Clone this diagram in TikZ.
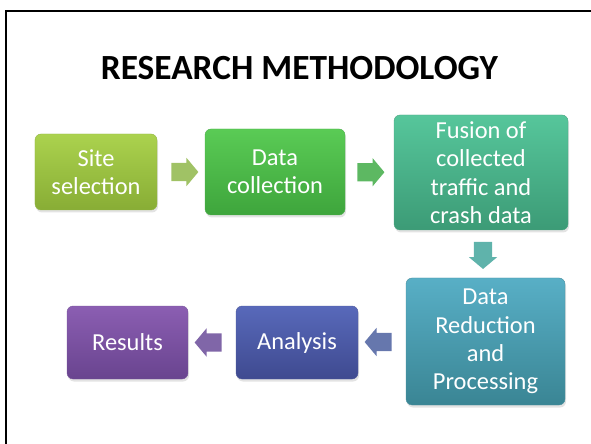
\documentclass[tikz,border=0pt]{standalone}
\usepackage{fontspec}
\setmainfont{Carlito}
\usetikzlibrary{shapes.arrows,shadows,calc}
\definecolor{siteT}{HTML}{ABD24E}\definecolor{siteB}{HTML}{88AD35}
\definecolor{collT}{HTML}{5ACB55}\definecolor{collB}{HTML}{3EA53C}
\definecolor{fusT}{HTML}{56C69B}\definecolor{fusB}{HTML}{3C9B76}
\definecolor{redT}{HTML}{58AFC6}\definecolor{redB}{HTML}{3A8594}
\definecolor{anaT}{HTML}{5869BA}\definecolor{anaB}{HTML}{3F4A90}
\definecolor{resT}{HTML}{8B5EB2}\definecolor{resB}{HTML}{69448F}
\definecolor{arrA}{HTML}{A0C265}
\definecolor{arrB}{HTML}{5DB862}
\definecolor{arrC}{HTML}{5FB3AB}
\definecolor{arrD}{HTML}{6677AD}
\definecolor{arrE}{HTML}{8066A8}
\tikzset{
  stepbox/.style={rounded corners=6bp, inner sep=0pt, align=center, text=white,
    font=\fontsize{24.5}{28.5}\selectfont,
    drop shadow={opacity=0.22, shadow xshift=1bp, shadow yshift=-2.5bp}},
  blockarrow/.style={single arrow, draw=none, fill=#1, minimum height=27bp,
    inner xsep=0pt, inner ysep=9bp, single arrow head extend=5bp,
    single arrow tip angle=100, single arrow head indent=0pt},
}
\begin{document}
\begin{tikzpicture}[x=1bp,y=-1bp]
\useasboundingbox (0,0) rectangle (591,444);
\draw[line width=2bp] (6,445) -- (6,11.5) -- (592,11.5);
\node[font=\fontsize{35.5}{40}\selectfont\bfseries] (title) at (299.5,68) {RESEARCH METHODOLOGY};

\node[stepbox, top color=siteT, bottom color=siteB, draw=siteB!90!white, minimum width=122bp, minimum height=76bp] (site) at (96,172) {Site\\selection};
\node[stepbox, top color=collT, bottom color=collB, draw=collB!90!white, minimum width=140bp, minimum height=86bp] (coll) at (275,172) {Data\\collection};
\node[stepbox, top color=fusT, bottom color=fusB, draw=fusB!90!white, minimum width=174bp, minimum height=115bp] (fus) at (481,172.5) {Fusion of\\collected\\traffic and\\crash data};
\node[stepbox, top color=redT, bottom color=redB, draw=redB!90!white, minimum width=159bp, minimum height=127bp] (red) at (485.5,341.5) {Data\\Reduction\\and\\Processing};
\node[stepbox, top color=anaT, bottom color=anaB, draw=anaB!90!white, minimum width=122bp, minimum height=73bp] (ana) at (297,342.5) {Analysis};
\node[stepbox, top color=resT, bottom color=resB, draw=resB!90!white, minimum width=121bp, minimum height=73bp] (res) at (127.5,342.5) {Results};

\node[blockarrow=arrA] (a1) at ($(site.east)!0.5!(coll.west)$) {};
\node[blockarrow=arrB] (a2) at ($(coll.east)!0.45!(fus.west)$) {};
\node[blockarrow=arrC, rotate=-90] (a3) at ($(fus.south)!0.45!(red.north)$) {};
\node[blockarrow=arrD, rotate=180] (a4) at ($(red.west)!0.5!(ana.east)$) {};
\node[blockarrow=arrE, rotate=180] (a5) at ($(ana.west)!0.5!(res.east)$) {};
\end{tikzpicture}
\end{document}
